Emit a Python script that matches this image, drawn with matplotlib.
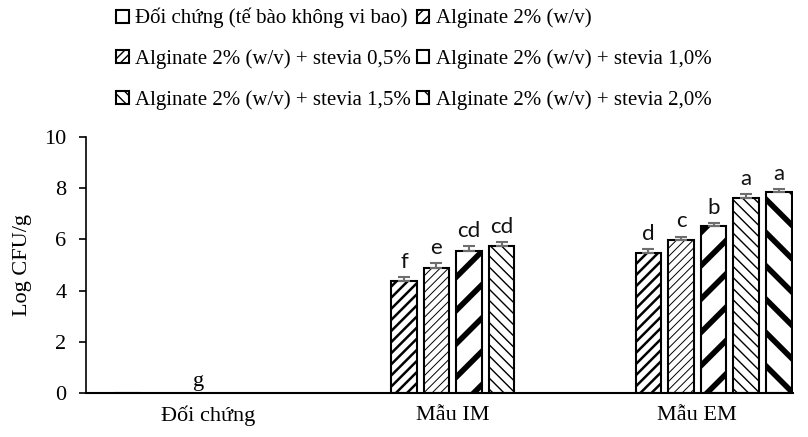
import numpy as np
import matplotlib
matplotlib.use('Agg')
import matplotlib.pyplot as plt

serif = ['Liberation Serif', 'DejaVu Serif']
plt.rcParams['font.family'] = serif

categories = ['Đối chứng', 'Mẫu IM', 'Mẫu EM']
series_names = ['Đối chứng (tế bào không vi bao)',
                'Alginate 2% (w/v)',
                'Alginate 2% (w/v) + stevia 0,5%',
                'Alginate 2% (w/v) + stevia 1,0%',
                'Alginate 2% (w/v) + stevia 1,5%',
                'Alginate 2% (w/v) + stevia 2,0%']

nan = np.nan
doi_chung = [0, nan, nan]
alginate = [nan, 4.38, 5.48]
stevia_05 = [nan, 4.90, 5.98]
stevia_10 = [nan, 5.55, 6.52]
stevia_15 = [nan, 5.74, 7.63]
stevia_20 = [nan, nan, 7.84]

err_doi_chung = [0, nan, nan]
err_alginate = [nan, 0.16, 0.13]
err_05 = [nan, 0.16, 0.13]
err_10 = [nan, 0.19, 0.13]
err_15 = [nan, 0.17, 0.13]
err_20 = [nan, nan, 0.12]

let_doi_chung = ['g', '', '']
let_alginate = ['', 'f', 'd']
let_05 = ['', 'e', 'c']
let_10 = ['', 'cd', 'b']
let_15 = ['', 'cd', 'a']
let_20 = ['', '', 'a']

values = [doi_chung, alginate, stevia_05, stevia_10, stevia_15, stevia_20]
errors = [err_doi_chung, err_alginate, err_05, err_10, err_15, err_20]
letters = [let_doi_chung, let_alginate, let_05, let_10, let_15, let_20]

# hatch pattern, hatch line width
styles = [('', 1.0), ('///', 1.8), ('////', 0.7), ('/', 4.0), ('\\\\\\', 1.0), ('\\', 4.0)]

fig = plt.figure(figsize=(8.08, 4.37), dpi=100)
ax = fig.add_axes([86/808, 1-393/437, 707/808, 256/437])

x = np.arange(len(categories))
pitch = 0.133
width = 0.106
bars_for_legend = []
for k in range(6):
    pos = x + (k - 2.5) * pitch
    hatch, hlw = styles[k]
    with plt.rc_context({'hatch.linewidth': hlw}):
        b = ax.bar(pos, values[k], width, color='white', edgecolor='black',
                   linewidth=1.5, hatch=hatch, label=series_names[k], zorder=2)
    for p in b.patches:
        if hasattr(p, 'set_hatch_linewidth'):
            p.set_hatch_linewidth(hlw)
    bars_for_legend.append(b)
    v = np.array(values[k], dtype=float)
    e = np.array(errors[k], dtype=float)
    ok = ~np.isnan(v) & (v > 0)
    if ok.any():
        ax.errorbar(pos[ok], v[ok], yerr=[np.zeros(ok.sum()), e[ok]], fmt='none',
                    ecolor='#6e6e6e', elinewidth=1.5, capsize=4.5, capthick=1.5, zorder=3)
    for i in range(len(categories)):
        if letters[k][i] and not np.isnan(v[i]) and v[i] > 0:
            ax.text(pos[i], v[i] + e[i] + 0.2, letters[k][i], ha='center', va='bottom',
                    fontsize=16, family=['Lato', 'DejaVu Sans'], color='#111111')

# control group letter (value 0)
ax.text(x[0] - 0.04, 0.08, let_doi_chung[0], ha='center', va='bottom', fontsize=16, family=serif)

ax.set_xlim(-0.5, -0.5 + 707/244.5)
ax.set_ylim(0, 10)
ax.set_yticks(np.arange(0, 11, 2))
ax.set_xticks(x)
ax.set_xticklabels(categories)
ax.tick_params(axis='x', length=0, pad=9, labelsize=16)
ax.tick_params(axis='y', length=5, width=1.2, pad=9, labelsize=16)
for s in ['top', 'right']:
    ax.spines[s].set_visible(False)
ax.spines['left'].set_linewidth(1.2)
ax.spines['bottom'].set_linewidth(1.5)
ax.set_ylabel('Log CFU/g', fontsize=16)
ax.yaxis.set_label_coords(-0.077, 0.5)

order = [0, 2, 4, 1, 3, 5]
handles = [bars_for_legend[i] for i in order]
labels = [series_names[i] for i in order]
fig.legend(handles, labels, loc='upper left', bbox_to_anchor=(116/808, 1 - 8/437),
           ncol=2, frameon=False, fontsize=15, borderpad=0, borderaxespad=0,
           handlelength=0.6, handleheight=0.6, handletextpad=0.3,
           columnspacing=0.3, labelspacing=1.0)

fig.savefig('out.png', dpi=100)
